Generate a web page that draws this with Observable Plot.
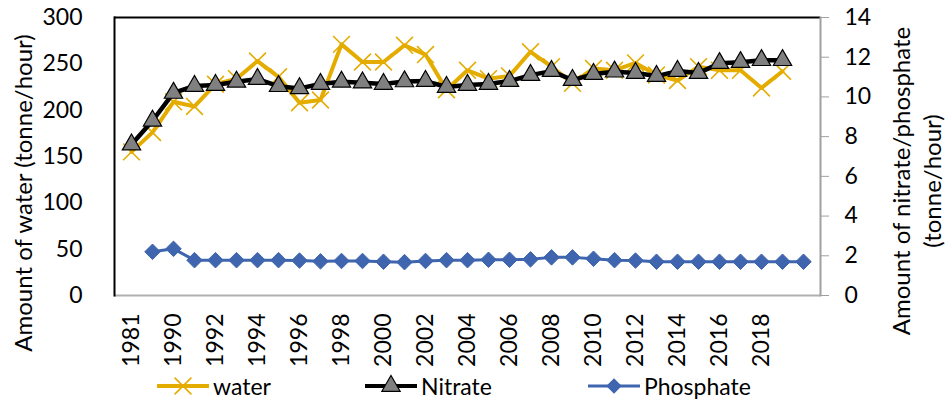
<!DOCTYPE html>
<html><head><meta charset="utf-8">
<script src="https://cdn.jsdelivr.net/npm/d3@7"></script>
<script src="https://cdn.jsdelivr.net/npm/@observablehq/plot@0.6"></script>
<style>
body{margin:0;background:#fff;font-family:Lato,sans-serif;}
#chart{position:relative;width:952px;height:400px;overflow:hidden;}
.item{position:absolute;top:368px;height:36px;display:flex;align-items:center;font-size:23px;color:#000;}
.item svg{display:block;margin-right:4px;}
.ytitle{position:absolute;white-space:nowrap;font-size:24px;color:#000;transform:translate(-50%,-50%) rotate(-90deg);text-align:center;line-height:31px;}
</style></head><body><div id="chart"></div>
<script>
const categories = ["1981","1989","1990","1991","1992","1993","1994","1995","1996","1997","1998","1999","2000","2001","2002","2003","2004","2005","2006","2007","2008","2009","2010","2011","2012","2013","2014","2015","2016","2017","2018","2019","2020"];
const tickLabels = ["1981","1990","1992","1994","1996","1998","2000","2002","2004","2006","2008","2010","2012","2014","2016","2018"];
const water = [155,176,209,204,228,234,253,236,208,211,271,252,252,270,260,222,243,234,237,263,247,229,245,243,251,238,232,247,243,243,224,242];
const nitrate = [7.6,8.8,10.2,10.55,10.6,10.76,10.9,10.54,10.43,10.65,10.76,10.72,10.65,10.78,10.8,10.5,10.6,10.65,10.8,11.1,11.3,10.85,11.15,11.27,11.2,11.05,11.3,11.2,11.7,11.75,11.85,11.85];
const phosphate = [null,2.2,2.35,1.78,1.78,1.78,1.78,1.78,1.76,1.72,1.74,1.74,1.7,1.68,1.74,1.78,1.78,1.8,1.8,1.82,1.92,1.92,1.85,1.78,1.76,1.7,1.7,1.7,1.7,1.7,1.7,1.7,1.7];
const leftTicks = [0,50,100,150,200,250,300];
const rightTicks = [0,2,4,6,8,10,12,14];
const seriesNames = ["water","Nitrate","Phosphate"];
const colors = {water:"#E5AC00", Nitrate:"#000000", Phosphate:"#3F65AF"};

const leftMax = 300, rightMax = 14, k = leftMax / rightMax;
const rows = categories.map((c, i) => ({
  cat: c,
  water: water[i] ?? null,
  nitrate: nitrate[i] != null ? nitrate[i] * k : null,
  phosphate: phosphate[i] != null ? phosphate[i] * k : null
}));

const plot = Plot.plot({
  width: 952, height: 365,
  marginLeft: 114, marginRight: 132, marginTop: 17, marginBottom: 70,
  style: {fontFamily: "Lato, sans-serif", fontSize: "23px", background: "#fff", color: "#000", overflow: "visible"},
  x: {type: "point", domain: categories, padding: 0.5, axis: null},
  y: {domain: [0, leftMax], axis: null},
  marks: [
    Plot.ruleY([0], {stroke: "#b0b0b0", strokeWidth: 2}),
    Plot.ruleY([leftMax], {stroke: "#000", strokeWidth: 2}),
    Plot.frame({anchor: "left", stroke: "#000", strokeWidth: 2}),
    Plot.frame({anchor: "right", stroke: "#a0a0a0", strokeWidth: 2}),
    Plot.axisY(leftTicks, {anchor: "left", tickSize: 0, tickPadding: 32, label: null}),
    Plot.axisY(rightTicks.map(v => v * k), {anchor: "right", tickSize: 8, tickPadding: 16, stroke: "#a0a0a0", fill: "#000", tickFormat: d => String(Math.round(d / k)), label: null}),
    Plot.text(tickLabels, {x: d => d, frameAnchor: "bottom", dy: 18, rotate: -90, textAnchor: "end", lineAnchor: "middle", fontSize: 23, fill: "#000"}),
    Plot.line(rows, {x: "cat", y: "water", stroke: colors.water, strokeWidth: 4}),
    Plot.dot(rows, {x: "cat", y: "water", symbol: "times", r: 7.7, stroke: colors.water, strokeWidth: 1.6}),
    Plot.line(rows, {x: "cat", y: "nitrate", stroke: colors.Nitrate, strokeWidth: 4.5}),
    Plot.dot(rows, {x: "cat", y: "nitrate", symbol: "triangle", r: 6.8, fill: "#808080", stroke: "#000", strokeWidth: 1.2}),
    Plot.line(rows, {x: "cat", y: "phosphate", stroke: colors.Phosphate, strokeWidth: 3}),
    Plot.dot(rows, {x: "cat", y: "phosphate", symbol: "diamond2", r: 7, fill: colors.Phosphate, stroke: colors.Phosphate, strokeWidth: 1})
  ]
});
const chart = document.getElementById("chart");
chart.appendChild(plot);

// axis titles
const lt = document.createElement("div");
lt.className = "ytitle"; lt.style.left = "22px"; lt.style.top = "193px";
lt.textContent = "Amount of water (tonne/hour)";
chart.appendChild(lt);
const rt = document.createElement("div");
rt.className = "ytitle"; rt.style.left = "916px"; rt.style.top = "181px";
rt.innerHTML = "Amount of nitrate/phosphate<br>(tonne/hour)";
chart.appendChild(rt);

// legend
const legendLeft = {water: 157, Nitrate: 365, Phosphate: 588};
const ns = "http://www.w3.org/2000/svg";
for (const name of seriesNames) {
  const item = document.createElement("div");
  item.className = "item"; item.style.left = legendLeft[name] + "px";
  const svg = document.createElementNS(ns, "svg");
  svg.setAttribute("width", 52); svg.setAttribute("height", 30);
  const line = document.createElementNS(ns, "line");
  line.setAttribute("x1", 0); line.setAttribute("x2", 52); line.setAttribute("y1", 15); line.setAttribute("y2", 15);
  line.setAttribute("stroke", colors[name]); line.setAttribute("stroke-width", name === "Phosphate" ? 3 : 4);
  svg.appendChild(line);
  const m = document.createElementNS(ns, "path");
  const sym = name === "water" ? d3.symbolTimes : name === "Nitrate" ? d3.symbolTriangle : d3.symbolDiamond2;
  const r = name === "water" ? 7.7 : name === "Nitrate" ? 6.8 : 7;
  m.setAttribute("d", d3.symbol(sym, Math.PI * r * r)());
  m.setAttribute("transform", "translate(26,15)");
  if (name === "water") { m.setAttribute("fill", "none"); m.setAttribute("stroke", colors.water); m.setAttribute("stroke-width", 1.6); }
  else if (name === "Nitrate") { m.setAttribute("fill", "#808080"); m.setAttribute("stroke", "#000"); m.setAttribute("stroke-width", 1.2); }
  else { m.setAttribute("fill", colors.Phosphate); }
  svg.appendChild(m);
  item.appendChild(svg);
  const t = document.createElement("span"); t.textContent = name;
  item.appendChild(t);
  chart.appendChild(item);
}
</script></body></html>
